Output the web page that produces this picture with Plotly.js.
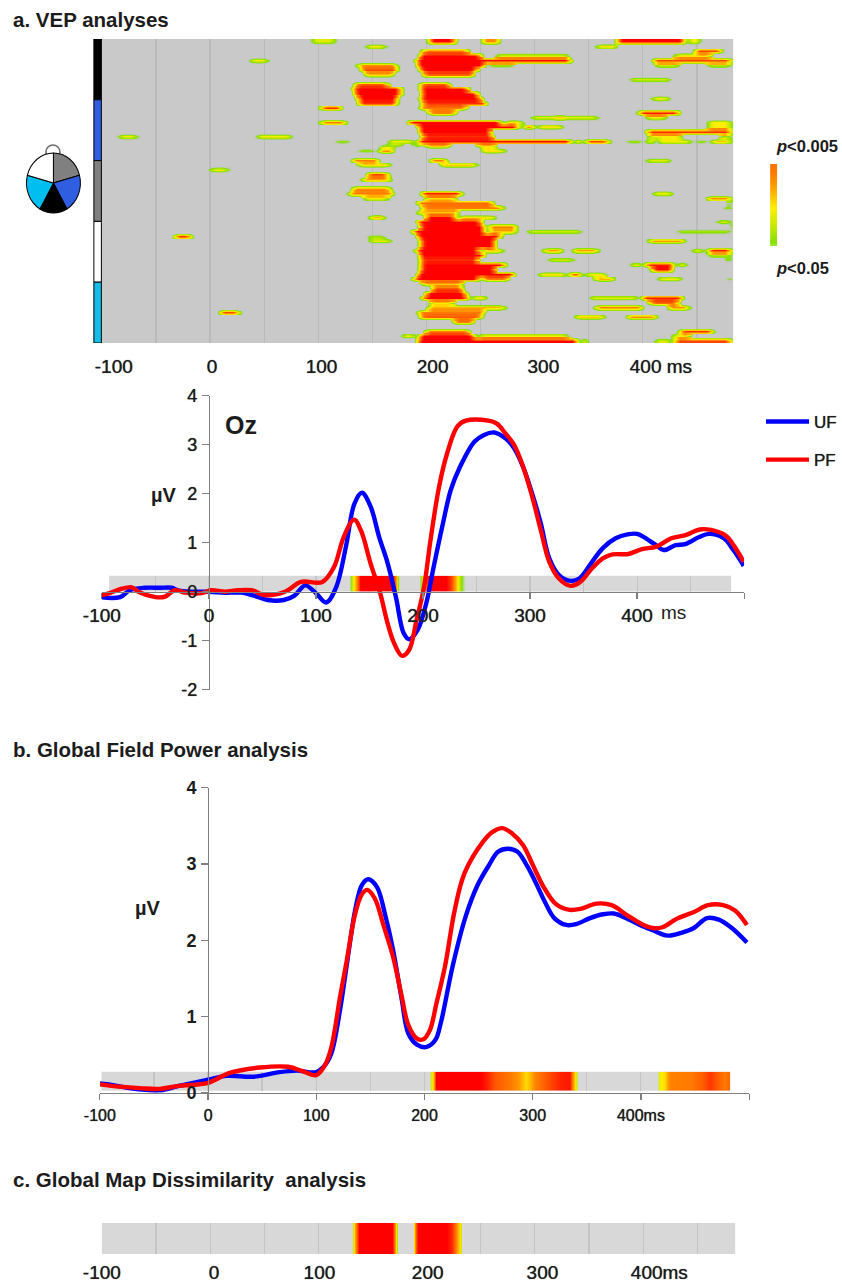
<!DOCTYPE html>
<html><head><meta charset="utf-8">
<script src="https://cdn.plot.ly/plotly-3.0.1.min.js"></script>
<style>html,body{margin:0;padding:0;background:#fff}.heatmaplayer image{filter:blur(0.6px)}</style></head>
<body><div id="chart" style="width:842px;height:1283px"></div>
<script>
// ---------- Oz waveforms (ms, µV)
const ozUfT=[-100,-83,-74,-60,-45,-35,-28,-15,0,15,30,42,55,70,80,90,100,109.6,119,128,136,143,151,159,167,174.6,182,187,195,203,210,218,226,234,248,257,266.5,277,285,294,302,310,318,327,338,346,357,368,380,391,400,406,417,425,436,445,457.5,467,481,490,499.6];
const ozUfV=[-0.115,-0.11,0.03,0.08,0.08,0.08,0.02,0,0,-0.02,-0.02,-0.08,-0.17,-0.17,-0.08,0.13,-0.03,-0.22,0.1,0.92,1.8,2.02,1.74,1.12,0.58,-0.1,-0.85,-0.97,-0.78,-0.24,0.51,1.33,2.08,2.52,3.06,3.2,3.25,3.13,2.93,2.52,2.0,1.4,0.68,0.34,0.22,0.27,0.58,0.89,1.09,1.17,1.18,1.12,0.96,0.85,0.95,0.97,1.11,1.18,1.09,0.85,0.53];
const ozPfT=[-100,-93,-83,-72,-66,-50,-41,-32,-22,-7,2,15,27,40,52,71,86,106,117,126,135.6,142,151,160,167,173,180.5,187,194,201,207,215,222.5,232,240,261,269,277,285,294,302,310,318,327,338,347,358,368,377,392,404.5,418,432,446,458.5,469,483,491,499.6];
const ozPfV=[-0.07,-0.03,0.05,0.09,0,-0.11,-0.1,0.03,-0.02,-0.03,0.03,0,0.03,0.03,-0.07,0,0.2,0.2,0.51,1.12,1.47,1.25,0.58,-0.03,-0.65,-1.05,-1.31,-1.19,-0.58,0.1,1.05,2.14,2.82,3.37,3.49,3.49,3.43,3.23,3.0,2.52,1.94,1.26,0.61,0.27,0.12,0.2,0.48,0.68,0.76,0.77,0.87,0.92,1.09,1.16,1.27,1.26,1.14,0.92,0.61];
// ---------- GFP waveforms
const gfpUfT=[-100,-88,-73,-45,-27,0,17,42,66,82,100,108,114,122,128,136,142,148,156,164,171,179,185,193,202,210,215,226,238,249,259,268,277,286,295,303,311,320,331,340,353,365,375,386,399,411,425,438,449,461,472,484,498];
const gfpUfV=[0.12,0.1,0.06,0.03,0.09,0.17,0.22,0.21,0.27,0.29,0.27,0.36,0.52,1.09,1.66,2.4,2.72,2.8,2.7,2.31,1.87,1.22,0.78,0.63,0.6,0.69,0.91,1.66,2.31,2.72,2.97,3.16,3.2,3.16,2.97,2.75,2.51,2.29,2.2,2.21,2.29,2.34,2.35,2.29,2.2,2.13,2.06,2.1,2.16,2.29,2.27,2.16,1.97];
const gfpPfT=[-100,-82,-63,-45,-27,0,20,48,74,88,100,108,114,122,128,136,142,147,154,162,171,179,185,193,199,205,211,219,228,237,254,263,272,281,291,300,310,321,333,344,359,373,387,401,411,420,433,449,462,476,487,498];
const gfpPfV=[0.11,0.08,0.06,0.05,0.09,0.13,0.26,0.33,0.34,0.28,0.23,0.36,0.6,1.26,1.72,2.35,2.6,2.66,2.55,2.2,1.78,1.26,0.89,0.71,0.7,0.82,1.17,1.66,2.4,2.88,3.29,3.42,3.47,3.4,3.25,2.99,2.7,2.48,2.4,2.41,2.48,2.46,2.33,2.21,2.16,2.17,2.28,2.37,2.46,2.46,2.39,2.2];
// ---------- significance strips: time stops (ms) and level at each stop (0 = n.s., 1 = strongest)
const ozSigT=[-93.2,131,132,134,136,138,141,172,174,175.5,177,178,196,197,199,201,203,205,222,226,229,231.5,234,236,238,239,487.8];
const ozSigL=[0,0,.12,.3,.45,.7,1,1,.7,.45,.15,0,0,.12,.3,.45,.8,1,1,.85,.65,.45,.3,.15,.1,0,0];
const gfpSigT=[-98.4,205,206,207.5,209,210.5,252,258,264,272,280,286,290,294,298,303,312,325,334,336.5,339,340.5,341.5,415.5,416.5,418,422,424,428,446,456,464,470,478,482.7];
const gfpSigL=[0,0,.3,.45,.7,1,1,.92,.82,.75,.7,.62,.55,.46,.55,.68,.8,.92,.95,.75,.46,.3,0,0,.35,.42,.45,.55,.68,.7,.78,.88,.8,.7,.78];
const gmdSigT=[-100,130.5,131.5,133,135,137,168,170,172,173,187,188,190,192,219,223,226,228,230.5,232,233,485];
const gmdSigL=[0,0,.3,.45,.7,1,1,.8,.45,0,0,.45,.8,1,1,.9,.75,.6,.45,.3,0,0];
const keyLevels=[0.72,0.7,0.66,0.62,0.58,0.54,0.5,0.46,0.42,0.38,0.34,0.3,0.26,0.22,0.18,0.14];
// ---------- VEP map: electrode row, first ms, last ms, strength
const vepSegments=[
[0,92,117,.35],[0,200,228,1],[0,249,269,.65],[0,374,440,1],[0,440,454,.45],
[1,142,164,.4],[1,355,377,.45],
[2,194,240,.7],[2,446,474,.85],
[3,191,252,1],[3,262,333,.35],[3,427,464,.45],
[4,35,55,.4],[4,188,335,1],[4,407,483,.85],
[5,134,174,.65],[5,189,255,1],[5,255,283,.2],[5,409,435,.3],[5,457,483,.25],
[6,137,175,.85],[6,192,248,1],
[7,141,171,.45],[7,195,245,.75],
[8,386,427,.3],
[9,132,166,.8],[9,192,223,.8],
[10,130,178,1],[10,192,240,1],
[11,131,178,1],[11,193,249,1],
[12,134,175,1],[12,192,252,1],[12,406,426,.4],
[13,135,174,.9],[13,194,257,.9],
[14,100,123,.9],[14,192,238,.7],
[15,200,228,.7],[15,394,435,.95],
[16,401,423,.4],[16,295,360,.35],[16,313,333,.5],
[17,100,127,.7],[17,181,270,1],[17,270,290,.45],[17,458,483,.42],
[18,190,286,1],[18,288,301,.7],[18,301,327,.45],[18,458,483,.42],
[19,191,261,1],[19,401,483,.9],
[20,-86,-66,.4],[20,41,77,.4],[20,194,263,.9],[20,403,437,.4],[20,469,483,.2],
[21,113,131,.2],[21,163,190,.4],[21,190,335,1],[21,335,345,.5],[21,345,370,.85],[21,382,401,.2],[21,401,412,.42],[21,412,446,.4],[21,446,461,.2],[21,461,483,.5],
[22,155,178,.2],[22,186,197,.2],[22,197,223,.5],[22,245,265,.45],
[23,134,154,.2],[23,154,171,.65],[23,249,274,.45],
[25,129,157,.7],[25,201,220,.7],[25,401,427,.35],
[26,135,168,.45],[26,211,248,.5],
[27,-2,18,.4],
[28,143,166,.85],
[29,138,168,.6],
[31,129,168,.65],
[32,126,171,.7],[32,193,234,.95],[32,407,429,.4],
[33,140,166,.4],[33,197,228,.45],[33,457,483,.65],
[34,189,263,.75],[34,478,483,.2],
[35,194,272,.7],[35,473,483,.25],
[36,189,231,.5],
[37,145,163,.55],[37,197,228,1],[37,228,265,.45],
[38,189,252,1],[38,466,483,.3],
[39,192,255,1],[39,255,285,.7],[39,480,483,.3],
[40,185,255,1],[40,255,285,.5],[40,291,345,.3],[40,429,483,.22],
[41,-35,-16,.9],[41,143,163,.2],[41,189,270,1],
[42,145,169,.35],[42,192,265,1],[42,403,440,.6],
[43,192,265,1],
[44,188,250,1],[44,250,272,.5],[44,306,327,.6],[44,333,360,.6],[44,443,458,.35],[44,458,483,.95],
[45,191,255,1],[45,458,483,.25],
[46,192,249,.9],[46,310,338,.3],[46,475,483,.25],
[47,192,274,1],[47,387,400,.4],[47,400,430,.95],[47,430,442,.4],
[48,192,265,1],[48,406,429,1],
[49,189,283,1],[49,302,330,.45],[49,330,344,.85],[49,344,367,.4],
[50,186,250,1],[50,250,277,.7],[50,353,375,.55],[50,412,437,.4],[50,476,483,.25],
[51,194,234,.5],
[52,203,235,.8],
[53,197,238,1],
[54,194,240,1],[54,240,257,.45],[54,349,397,.35],[54,397,438,.95],
[55,201,226,.4],[55,404,434,.75],
[56,199,274,.55],[56,354,401,.7],[56,421,444,.65],
[57,7,28,.85],[57,190,255,.7],
[58,192,252,.8],[58,335,366,.5],[58,383,414,.65],
[59,223,245,.7],
[61,197,241,.7],[61,432,466,.9],
[62,175,191,.4],[62,191,246,1],[62,246,332,.4],[62,425,445,.4],
[63,189,341,1],[63,341,350,.4],[63,409,427,.35],[63,427,483,.85]
];
const mapStart=-100, mapEnd=483.4, mapBinMs=2, electrodeCount=64;
const gridMs=[-50,0,50,100,150,200,250,300,350,400,450];
const groupSizes=[12.8,12.8,12.8,12.8,12.8];
const groupColors=['#000000','#2f5fe0','#808080','#ffffff','#15bde6'];
const headSectors=[75,75,60,75,75];
const headColors=['#808080','#2f5fe0','#000000','#00bff0','#ffffff'];
const vepTickMs=[-89,1.8,103,205.7,308,416.7];
const vepTickText=['-100','0','100','200','300','400 ms'];
const gmdTickMs=[-100,3.7,101,201,307,415];
const gmdTickText=['-100','0','100','200','300','400ms'];

// build the map grid from the read segments (three sub-rows per electrode: lines stay thin, blobs stay joined)
const mapX=[]; for(let t=mapStart;t<=mapEnd;t+=mapBinMs) mapX.push(t);
const rowVals=[...Array(electrodeCount).keys()].map(()=>mapX.map(()=>0));
vepSegments.forEach(([r,a,b,p])=>{
  mapX.forEach((t,i)=>{
    if(t<a||t>b) return;
    const edge=Math.min(t-a,b-t), taper=Math.min(1,0.25+edge/9);
    rowVals[r][i]=Math.max(rowVals[r][i],p*taper);
  });
});
const mapY=[],mapZ=[];
rowVals.forEach((row,r)=>{
  const prev=rowVals[r-1], next=rowVals[r+1];
  const mix=(other)=>row.map((v,i)=>other?((v>0&&other[i]>0)?(v+other[i])/2:v*0.55):v);
  mapY.push(r-1/3,r,r+1/3);
  mapZ.push(mix(prev),row,mix(next));
});

const W=842,H=1283;
const fx=p=>p/W, fy=p=>1-p/H;
const dx=(a,b)=>[fx(a),fx(b)], dy=(top,bot)=>[fy(bot),fy(top)];
const FONT='"Liberation Sans", Arial, sans-serif', INK='#1c1c1c', SOFT='0 0 0.8px #333';
const sigScale=[[0,'rgba(200,200,200,0)'],[0.1,'rgba(125,220,0,0.2)'],[0.15,'#84e000'],[0.3,'#cdea00'],[0.42,'#ffee00'],[0.6,'#ff9a00'],[0.8,'#ff5a00'],[1,'#ff0000']];
const hm=(o)=>Object.assign({type:'heatmap',colorscale:sigScale,zmin:0,zmax:1,showscale:false,hoverinfo:'skip'},o);
const waveLine=c=>({color:c,width:4.4,shape:'spline',smoothing:1});

const traces=[
 hm({x:mapX,y:mapY,z:mapZ,zsmooth:'best',xaxis:'x',yaxis:'y'}),
 hm({x:ozSigT,y:[0,1],z:[ozSigL,ozSigL],xaxis:'x2',yaxis:'y2',zsmooth:'best'}),
 hm({x:gfpSigT,y:[0,1],z:[gfpSigL,gfpSigL],xaxis:'x4',yaxis:'y4',zsmooth:'best'}),
 hm({x:gmdSigT,y:[0,1],z:[gmdSigL,gmdSigL],xaxis:'x6',yaxis:'y6',zsmooth:'best'}),
 hm({z:keyLevels.map(v=>[v,v]),xaxis:'x7',yaxis:'y7',zsmooth:'best'}),
 {type:'bar',x:groupSizes.map(()=>0),y:groupSizes,base:groupSizes.map((s,i)=>groupSizes.slice(0,i).reduce((a,b)=>a+b,0)),width:1,
  marker:{color:groupColors,line:{color:'#000',width:1}},xaxis:'x8',yaxis:'y8',hoverinfo:'skip',showlegend:false},
 {type:'pie',values:headSectors,sort:false,direction:'clockwise',rotation:0,textinfo:'none',hoverinfo:'skip',showlegend:false,
  marker:{colors:headColors,line:{color:'#000',width:1}},domain:{x:dx(26.5,80.5),y:dy(156,210)}},
 {type:'scatter',mode:'lines',name:'UF',x:ozUfT,y:ozUfV,line:waveLine('#0000ff'),xaxis:'x3',yaxis:'y3',legendgroup:'a',hoverinfo:'skip'},
 {type:'scatter',mode:'lines',name:'PF',x:ozPfT,y:ozPfV,line:waveLine('#ff0000'),xaxis:'x3',yaxis:'y3',legendgroup:'b',hoverinfo:'skip'},
 {type:'scatter',mode:'lines',name:'UF',x:gfpUfT,y:gfpUfV,line:waveLine('#0000ff'),xaxis:'x5',yaxis:'y5',showlegend:false,hoverinfo:'skip'},
 {type:'scatter',mode:'lines',name:'PF',x:gfpPfT,y:gfpPfV,line:waveLine('#ff0000'),xaxis:'x5',yaxis:'y5',showlegend:false,hoverinfo:'skip'}
];

const stripX=(dom,range,anchor,grid)=>({domain:dom,range,anchor,showgrid:false,zeroline:false,showline:false,ticks:'',showticklabels:false,
  minor:{tickmode:'array',tickvals:gridMs,showgrid:true,gridcolor:grid,gridwidth:1.2,ticks:''}});
const hiddenY=(dom,anchor,range)=>({domain:dom,anchor,range,visible:false,fixedrange:true});
const tickFont={family:FONT,size:19,color:INK,shadow:SOFT};
const AXC='#808080';
const waveX=(dom,y0px,text,font,standoff)=>({domain:dom,range:[-100,500],anchor:'free',position:fy(y0px),
  showgrid:false,zeroline:false,showline:true,linecolor:AXC,linewidth:1.2,ticks:'outside',ticklen:6,tickcolor:AXC,tickwidth:1.2,
  tickmode:'array',tickvals:[-100,0,100,200,300,400,500],ticktext:text,tickfont:font,ticklabelstandoff:standoff});
const waveY=(dom,range,x0px,vals,font)=>({domain:dom,range,anchor:'free',position:fx(x0px),showgrid:false,zeroline:false,showline:true,linecolor:AXC,linewidth:1.2,
  ticks:'outside',ticklen:7,tickcolor:AXC,tickwidth:1.2,tickmode:'array',tickvals:vals,ticktext:vals.map(String),tickfont:font,ticklabelstandoff:1});

const layout={
 width:W,height:H,margin:{l:0,r:0,t:0,b:0,pad:0},autosize:false,paper_bgcolor:'#fff',plot_bgcolor:'rgba(0,0,0,0)',barmode:'overlay',bargap:0,
 font:{family:FONT,color:INK},
 showlegend:true,
 legend:{x:fx(762),y:fy(404),xanchor:'left',yanchor:'top',bgcolor:'rgba(0,0,0,0)',font:{family:FONT,size:17,color:INK,shadow:SOFT},tracegroupgap:13,itemwidth:43,traceorder:'grouped'},
 xaxis:Object.assign(stripX(dx(102,734),[mapStart,mapEnd],'y','#bababa'),{showticklabels:true,tickmode:'array',tickvals:vepTickMs,ticktext:vepTickText,tickfont:tickFont,ticklabelstandoff:10}),
 yaxis:{domain:dy(39,343),anchor:'x',range:[electrodeCount-0.5,-0.5],visible:false,fixedrange:true},
 xaxis2:stripX(dx(109.3,732),[ozSigT[0],ozSigT[ozSigT.length-1]],'y2','#c4c4c4'),
 yaxis2:hiddenY(dy(575.7,591.5),'x2',[0,1]),
 xaxis3:waveX(dx(102,745),591.7,['-100','0','100','200','300','400',''],tickFont,0),
 yaxis3:waveY(dy(395.7,689.7),[-2,4],209.2,[-2,-1,0,1,2,3,4],{family:FONT,size:18,color:INK,shadow:SOFT}),
 xaxis4:stripX(dx(101.7,731),[gfpSigT[0],gfpSigT[gfpSigT.length-1]],'y4','#c4c4c4'),
 yaxis4:hiddenY(dy(1071.7,1090.7),'x4',[0,1]),
 xaxis5:waveX(dx(100,750),1092.7,['-100','0','100','200','300','400ms',''],{family:FONT,size:16,color:INK,shadow:SOFT},2),
 yaxis5:waveY(dy(787.7,1092.7),[0,4],208.3,[0,1,2,3,4],{family:FONT,size:18,color:INK,weight:700}),
 xaxis6:Object.assign(stripX(dx(102,736),[gmdSigT[0],gmdSigT[gmdSigT.length-1]],'y6','#c4c4c4'),{showticklabels:true,tickmode:'array',tickvals:gmdTickMs,ticktext:gmdTickText,tickfont:tickFont,ticklabelstandoff:5}),
 yaxis6:hiddenY(dy(1223,1254),'x6',[0,1]),
 xaxis7:{domain:dx(771,778.5),anchor:'y7',visible:false,fixedrange:true},
 yaxis7:{domain:dy(164,246),anchor:'x7',visible:false,autorange:'reversed',fixedrange:true},
 xaxis8:{domain:dx(93,102.5),anchor:'y8',range:[-0.633,0.633],visible:false,fixedrange:true},
 yaxis8:{domain:dy(39,343),anchor:'x8',range:[64,0],visible:false,fixedrange:true},
 shapes:[
  {type:'rect',layer:'below',xref:'x domain',yref:'y domain',x0:0,x1:1,y0:0,y1:1,fillcolor:'#c9c9c9',line:{width:0}},
  {type:'rect',layer:'below',xref:'x2 domain',yref:'y2 domain',x0:0,x1:1,y0:0,y1:1,fillcolor:'#d8d8d8',line:{width:0}},
  {type:'rect',layer:'below',xref:'x4 domain',yref:'y4 domain',x0:0,x1:1,y0:0,y1:1,fillcolor:'#d8d8d8',line:{width:0}},
  {type:'rect',layer:'below',xref:'x6 domain',yref:'y6 domain',x0:0,x1:1,y0:0,y1:1,fillcolor:'#d8d8d8',line:{width:0}},
  {type:'circle',layer:'below',xref:'paper',yref:'paper',x0:fx(46),x1:fx(60),y0:fy(159),y1:fy(145),line:{color:'#6e6e6e',width:1.6},fillcolor:'rgba(0,0,0,0)'}
 ],
 annotations:[
  note('a. VEP analyses',11,19,20.5,true),
  note('b. Global Field Power analysis',11,749,20.5,true),
  note('c. Global Map Dissimilarity  analysis',11,1179,20.5,true),
  note('<i>p</i>&lt;0.005',775,146,16.5,true),
  note('<i>p</i>&lt;0.05',775,268,16.5,true),
  note('Oz',223,425,25,true),
  note('µV',149,495,20,true),
  note('µV',133,908,20,true),
  note('ms',660,613,19,false)
 ]
};
function note(text,px,py,size,bold){
  return {text:bold?'<b>'+text+'</b>':text,xref:'paper',yref:'paper',x:px/W,y:1-py/H,xanchor:'left',yanchor:'middle',showarrow:false,
    font:{family:FONT,size:size,color:INK}};
}
Plotly.newPlot('chart',traces,layout,{displayModeBar:false,staticPlot:true}).then(gd=>{
  // the head outline in the picture is a slightly tall oval
  const pie=gd.querySelector('.pielayer');
  if(pie) pie.setAttribute('transform','translate(53.5 183) scale(1 1.11) translate(-53.5 -183)');
});
</script></body></html>
